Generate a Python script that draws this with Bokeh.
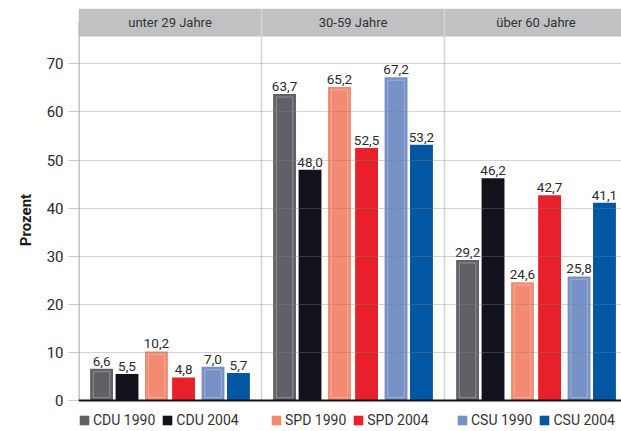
from bokeh.plotting import figure
from bokeh.models import ColumnDataSource, FixedTicker, Legend, LegendItem, Span, Range1d
from bokeh.core.properties import value
from bokeh.embed import file_html
from bokeh.resources import INLINE

# ---- data ----
groups = ["unter 29 Jahre", "30-59 Jahre", "über 60 Jahre"]
series = ["CDU 1990", "CDU 2004", "SPD 1990", "SPD 2004", "CSU 1990", "CSU 2004"]
cdu_1990 = [6.6, 63.7, 29.2]
cdu_2004 = [5.5, 48.0, 46.2]
spd_1990 = [10.2, 65.2, 24.6]
spd_2004 = [4.8, 52.5, 42.7]
csu_1990 = [7.0, 67.2, 25.8]
csu_2004 = [5.7, 53.2, 41.1]
y_ticks = [0, 10, 20, 30, 40, 50, 60, 70]

values = [cdu_1990, cdu_2004, spd_1990, spd_2004, csu_1990, csu_2004]
colors = ["#635f67", "#13111c", "#f28b72", "#e8202b", "#7790c6", "#0356a1"]
offsets = [-0.374, -0.235, -0.074, 0.074, 0.235, 0.374]
bar_w = 0.125

FONT = "Roboto"
X_END = 2.967
Y_END = 81.5
Y_START = -6.44
HEAD_BOTTOM = 75.7

p = figure(width=621, height=431, x_range=Range1d(0, X_END), y_range=Range1d(Y_START, Y_END),
           output_backend="svg", toolbar_location=None,
           min_border_left=78, min_border_right=0, min_border_top=8, min_border_bottom=0)
p.outline_line_color = None
p.xaxis.visible = False
p.xgrid.visible = False

# header band
p.quad(left=[0], right=[X_END], bottom=[HEAD_BOTTOM], top=[Y_END],
       fill_color="#bfc1c3", line_color=None)
centers = [i + 0.5 for i in range(len(groups))]
p.text(x=centers, y=[(HEAD_BOTTOM + Y_END) / 2] * len(groups), text=groups,
       text_align="center", text_baseline="middle", text_font=value(FONT),
       text_font_size="13px", text_color="#333333")

# group separators and y-axis line
seps = list(range(1, len(groups)))
p.segment(x0=seps, y0=[0] * len(seps), x1=seps, y1=[Y_END] * len(seps),
          line_color="#d4d4d4", line_width=1.5)
p.segment(x0=[0], y0=[0], x1=[0], y1=[HEAD_BOTTOM + 3], line_color="#b5b5b5", line_width=2.5)

renderers = []
for i, (name, vals, col) in enumerate(zip(series, values, colors)):
    xs = [c + offsets[i] for c in centers]
    src = ColumnDataSource(dict(x=xs, top=vals,
                                lab=[f"{v:.1f}".replace(".", ",") for v in vals]))
    r = p.vbar(x="x", top="top", bottom=0, width=bar_w, source=src,
               fill_color=col, line_color=None)
    renderers.append(r)
    if name.endswith("1990"):
        hl = ColumnDataSource(dict(x=xs, top=[v - 0.6 for v in vals]))
        p.vbar(x="x", top="top", bottom=0.6, width=bar_w - 0.035, source=hl,
               fill_alpha=0, line_color="white", line_alpha=0.3, line_width=1)
    p.text(x="x", y="top", text="lab", source=src, y_offset=-3,
           text_align="center", text_baseline="bottom", text_font=value(FONT),
           text_font_size="13.5px", text_color="#2b2b2b")

# grid over bars
p.ygrid.ticker = FixedTicker(ticks=y_ticks)
p.ygrid.grid_line_color = "#808080"
p.ygrid.grid_line_alpha = 0.35
p.ygrid.level = "annotation"

p.add_layout(Span(location=0, dimension="width", line_color="#111111", line_width=2))

# y axis
ax = p.yaxis[0]
ax.ticker = FixedTicker(ticks=y_ticks)
ax.axis_line_color = None
ax.major_tick_line_color = "#c8c8c8"
ax.major_tick_out = 10
ax.major_tick_in = 0
ax.minor_tick_line_color = None
ax.major_label_text_font = FONT
ax.major_label_text_font_size = "15px"
ax.major_label_text_color = "#2a2a2a"
ax.major_label_standoff = 5
ax.axis_label = "Prozent"
ax.axis_label_text_font = FONT
ax.axis_label_text_font_style = "bold"
ax.axis_label_text_font_size = "15px"
ax.axis_label_text_color = "#1a1a1a"
ax.axis_label_standoff = 9

# legends (three pairs)
legend_x = [0, 192, 378]
for k in range(3):
    items = [LegendItem(label=series[2 * k + j], renderers=[renderers[2 * k + j]]) for j in range(2)]
    leg = Legend(items=items, orientation="horizontal", location=(legend_x[k], 3),
                 background_fill_alpha=0, border_line_color=None, padding=0, margin=0,
                 glyph_width=12, glyph_height=12, label_standoff=3, spacing=6,
                 label_text_font=FONT, label_text_font_size="14px",
                 label_text_color="#333333")
    p.add_layout(leg)

open("out.html", "w").write(file_html(p, INLINE))
